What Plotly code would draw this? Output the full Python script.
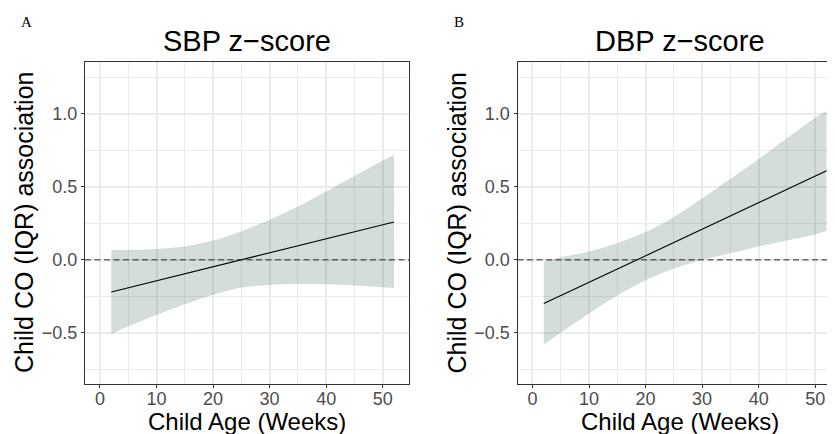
import plotly.graph_objects as go

# ---- data ----
weeks = [2, 5, 10, 15, 20, 25, 30, 35, 40, 45, 50, 52]

sbp_upper = [0.068, 0.068, 0.075, 0.091, 0.132, 0.195, 0.274, 0.365, 0.468, 0.575, 0.680, 0.719]
sbp_lower = [-0.509, -0.455, -0.378, -0.305, -0.240, -0.190, -0.172, -0.166, -0.168, -0.176, -0.188, -0.194]

dbp_upper = [-0.011, 0.018, 0.057, 0.114, 0.190, 0.294, 0.420, 0.555, 0.692, 0.833, 0.974, 1.021]
dbp_lower = [-0.580, -0.500, -0.368, -0.245, -0.140, -0.060, 0.000, 0.045, 0.092, 0.133, 0.174, 0.199]

fit_weeks = [2, 52]
sbp_fit = [-0.221, 0.260]
dbp_fit = [-0.300, 0.610]

panel_titles = ["SBP z\u2212score", "DBP z\u2212score"]
panel_tags = ["A", "B"]
x_title = "Child Age (Weeks)"
y_title = "Child CO (IQR) association"

x_ticks = [0, 10, 20, 30, 40, 50]
y_ticks = [-0.5, 0.0, 0.5, 1.0]
y_ticklabels = ["\u22120.5", "0.0", "0.5", "1.0"]

# ---- styling ----
PAGE_OFF = 8           # default body margin of the html page
W, H = 835 - PAGE_OFF, 434 - PAGE_OFF
band_col = "rgba(47,79,79,0.2)"
grid_col = "#EBEBEB"
axis_col = "#333333"
sans = "Liberation Sans, Arial, sans-serif"
tick_font = dict(family=sans, size=18, color="#4D4D4D")

def px(v):
    return v - PAGE_OFF

fig = go.Figure()

panels = [
    (sbp_upper, sbp_lower, sbp_fit, "x", "y"),
    (dbp_upper, dbp_lower, dbp_fit, "x2", "y2"),
]
for up, lo, fit, xa, ya in panels:
    fig.add_trace(go.Scatter(x=weeks, y=lo, mode="lines", line=dict(width=0, shape="spline", smoothing=0.8),
                             hoverinfo="skip", showlegend=False, xaxis=xa, yaxis=ya))
    fig.add_trace(go.Scatter(x=weeks, y=up, mode="lines", line=dict(width=0, shape="spline", smoothing=0.8),
                             fill="tonexty", fillcolor=band_col, hoverinfo="skip", showlegend=False,
                             xaxis=xa, yaxis=ya))
    fig.add_trace(go.Scatter(x=fit_weeks, y=fit, mode="lines", line=dict(color="black", width=1.1),
                             showlegend=False, xaxis=xa, yaxis=ya))

# pixel geometry (page coordinates converted to figure coordinates)
xA0, xA1 = px(85), px(409)
xB0, xB1 = px(517.5), W
yTop, yBot = px(62), px(384)
x_range_A = [-2.65, 54.65]
px_per_unit = (xA1 - xA0) / (x_range_A[1] - x_range_A[0])
x_range_B = [-2.65, -2.65 + (xB1 - xB0) / px_per_unit]
y_range = [-0.851, 1.356]

def xaxis_cfg(dom, rng, mirror):
    return dict(domain=dom, range=rng, tickmode="array", tickvals=x_ticks,
                showgrid=True, gridcolor=grid_col, gridwidth=1.5,
                minor=dict(dtick=5, tick0=0, showgrid=True, gridcolor=grid_col, gridwidth=0.8, ticks=""),
                showline=True, linecolor=axis_col, linewidth=1, mirror=mirror,
                ticks="outside", ticklen=3, tickcolor=axis_col, tickwidth=1,
                ticklabelstandoff=-5,
                tickfont=tick_font, zeroline=False, fixedrange=True)

def yaxis_cfg(dom, anchor, mirror):
    return dict(domain=dom, range=y_range, anchor=anchor, tickmode="array", tickvals=y_ticks,
                ticktext=y_ticklabels,
                showgrid=True, gridcolor=grid_col, gridwidth=1.5,
                minor=dict(tickvals=[-0.75, -0.25, 0.25, 0.75, 1.25], showgrid=True, gridcolor=grid_col,
                           gridwidth=0.8, ticks=""),
                showline=True, linecolor=axis_col, linewidth=1, mirror=mirror,
                ticks="outside", ticklen=3, tickcolor=axis_col, tickwidth=1,
                tickfont=tick_font, zeroline=False, fixedrange=True)

ydom = [(H - yBot) / H, (H - yTop) / H]
fig.update_layout(
    width=W, height=H, margin=dict(l=0, r=0, t=0, b=0),
    paper_bgcolor="white", plot_bgcolor="white",
    xaxis=xaxis_cfg([xA0 / W, xA1 / W], x_range_A, True),
    yaxis=yaxis_cfg(ydom, "x", True),
    xaxis2=xaxis_cfg([xB0 / W, xB1 / W], x_range_B, True),
    yaxis2=yaxis_cfg(ydom, "x2", False),
)
fig.layout.xaxis.anchor = "y"
fig.layout.xaxis2.anchor = "y2"

# dashed zero reference lines
for xr, yr in [("x domain", "y"), ("x2 domain", "y2")]:
    fig.add_shape(type="line", xref=xr, yref=yr, x0=0, x1=1, y0=0, y1=0,
                  line=dict(color="#2a2a2a", width=1, dash="6px,3.5px"), layer="above")

# annotations (text)
annots = []
offsets = [0, px(517.5) - px(85)]
for i, off in enumerate(offsets):
    cx = (xA0 + xA1) / 2 + off
    annots.append(dict(text=panel_titles[i], x=cx / W, y=1 - px(41) / H, xref="paper", yref="paper",
                       xanchor="center", yanchor="middle", showarrow=False,
                       font=dict(family=sans, size=29, color="black")))
    annots.append(dict(text=x_title, x=cx / W, y=1 - px(421) / H, xref="paper", yref="paper",
                       xanchor="center", yanchor="middle", showarrow=False,
                       font=dict(family=sans, size=24, color="black")))
    annots.append(dict(text=y_title, x=(px(24) + off) / W, y=1 - px(223) / H, xref="paper", yref="paper",
                       xanchor="center", yanchor="middle", showarrow=False, textangle=-90,
                       font=dict(family=sans, size=25, color="black")))
    annots.append(dict(text=panel_tags[i], x=(px(26) + off) / W, y=1 - px(22) / H, xref="paper", yref="paper",
                       xanchor="center", yanchor="middle", showarrow=False,
                       font=dict(family="Liberation Serif, Times New Roman, serif", size=15, color="black")))
fig.update_layout(annotations=annots)

fig.write_html("out.html", config={"displayModeBar": False})
